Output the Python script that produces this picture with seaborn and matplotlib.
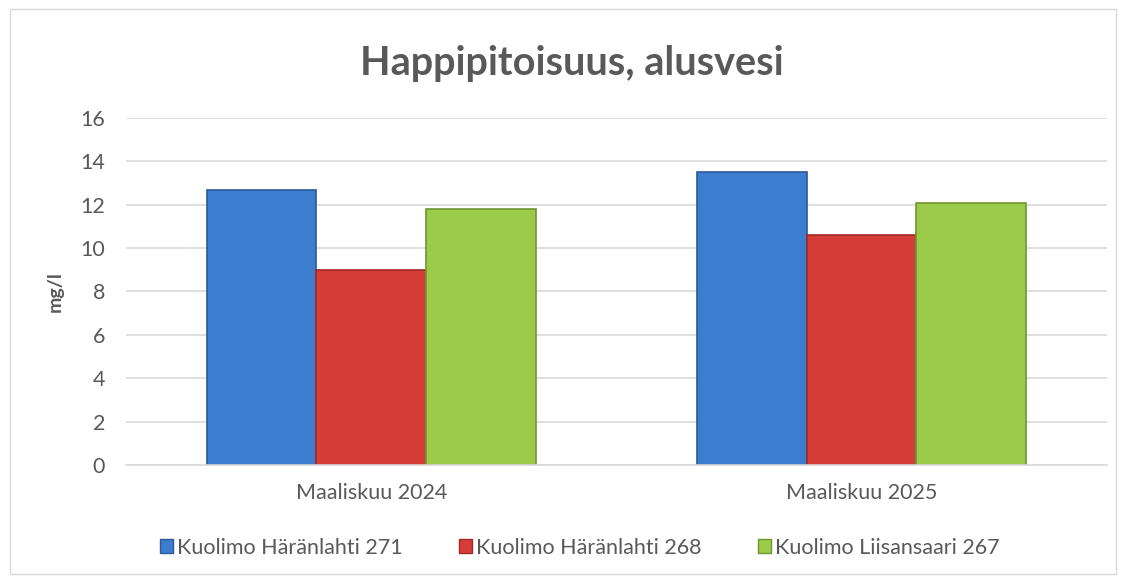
import pandas as pd
import matplotlib
matplotlib.use('Agg')
import matplotlib.pyplot as plt
import seaborn as sns
from matplotlib.patches import Rectangle

KUUKAUDET = ['Maaliskuu 2024', 'Maaliskuu 2025']
ASEMAT = ['Kuolimo Häränlahti 271', 'Kuolimo Häränlahti 268', 'Kuolimo Liisansaari 267']
ARVOT_271 = [12.7, 13.5]
ARVOT_268 = [9.0, 10.6]
ARVOT_267 = [11.8, 12.1]

VARIT = ['#3C7DD0', '#D63D38', '#9BCB48']
REUNAT = ['#2A5A9A', '#9E2A27', '#6E9532']
HARMAA = '#595959'


def tee_data() -> pd.DataFrame:
    rivit = []
    for asema, arvot in zip(ASEMAT, [ARVOT_271, ARVOT_268, ARVOT_267]):
        for kk, a in zip(KUUKAUDET, arvot):
            rivit.append({'kuukausi': kk, 'asema': asema, 'arvo': a})
    return pd.DataFrame(rivit)


def main():
    df = tee_data()
    sns.set_style('white')
    plt.rcParams['font.family'] = ['Lato', 'DejaVu Sans']

    fig = plt.figure(figsize=(11.26, 5.81), dpi=100)
    ax = fig.add_axes([0.1119, 0.1997, 0.8711, 0.5973])

    sns.barplot(data=df, x='kuukausi', y='arvo', hue='asema', order=KUUKAUDET,
                hue_order=ASEMAT, palette=VARIT, width=0.67, gap=0,
                saturation=1, ax=ax, legend=False)

    # reunavärit sarjoittain
    for cont, reuna in zip(ax.containers, REUNAT):
        for bar in cont:
            bar.set_edgecolor(reuna)
            bar.set_linewidth(1.2)

    ax.set_ylim(0, 16)
    ax.set_yticks(range(0, 17, 2))
    ax.yaxis.grid(True, color='#D9D9D9', linewidth=1.2)
    ax.set_axisbelow(True)
    for s in ['top', 'right', 'left']:
        ax.spines[s].set_visible(False)
    ax.spines['bottom'].set_color('#D9D9D9')
    ax.spines['bottom'].set_linewidth(1.2)
    ax.tick_params(axis='both', length=0, labelsize=15.5, colors=HARMAA)
    ax.tick_params(axis='y', pad=15)
    ax.tick_params(axis='x', pad=13)
    ax.set_xlabel('')
    ax.set_ylabel('mg/l', fontsize=14, color=HARMAA, fontweight='bold', labelpad=12)

    fig.text(0.508, 0.89, 'Happipitoisuus, alusvesi', ha='center', va='center',
             fontsize=28.5, fontweight='bold', color=HARMAA)

    kahvat = [Rectangle((0, 0), 1, 1, facecolor=v, edgecolor=r) for v, r in zip(VARIT, REUNAT)]
    fig.legend(kahvat, ASEMAT, loc='center', bbox_to_anchor=(0.515, 0.057), ncol=3,
               frameon=False, fontsize=15.5, labelcolor=HARMAA, handlelength=0.6,
               handleheight=0.6, handletextpad=0.2, columnspacing=2.6)

    fig.patches.append(Rectangle((0.009, 0.012), 0.982, 0.972, transform=fig.transFigure,
                                 fill=False, edgecolor='#D9D9D9', linewidth=1))

    fig.savefig('out.png', dpi=100)
    plt.close(fig)


if __name__ == '__main__':
    main()
